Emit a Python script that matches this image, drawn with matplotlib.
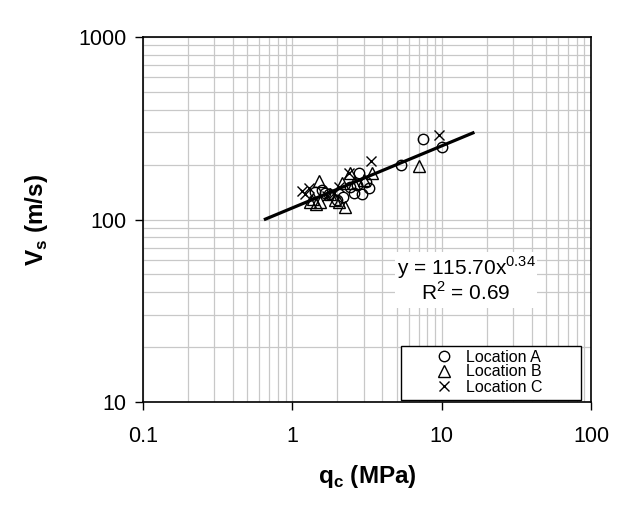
import matplotlib
matplotlib.use("Agg")
import matplotlib.pyplot as plt
from matplotlib.patches import Rectangle
from matplotlib.ticker import LogLocator, FuncFormatter, NullFormatter
import numpy as np

plt.rcParams['font.family'] = ['Liberation Sans', 'DejaVu Sans']
plt.rcParams['mathtext.fontset'] = 'custom'
plt.rcParams['mathtext.rm'] = 'Liberation Sans'
plt.rcParams['mathtext.bf'] = 'Liberation Sans:bold'

# Location A (circles): qc (MPa), Vs (m/s)
qc_a = [7.48, 10.0, 5.36, 2.78, 3.24, 2.92, 2.57, 2.71, 1.58, 1.99, 1.42, 1.75, 2.2, 2.45, 3.1, 1.65]
vs_a = [276, 249, 199, 179, 148, 138, 139, 155, 145, 128, 142, 138, 132, 150, 160, 140]

# Location B (triangles)
qc_b = [1.50, 2.44, 3.41, 7.0, 2.26, 1.32, 1.54, 1.94, 2.15, 3.0, 2.57, 1.45, 2.05, 1.8, 1.38]
vs_b = [163, 179, 179, 196, 117, 125, 125, 128, 158, 165, 158, 122, 124, 138, 130]

# Location C (crosses)
qc_c = [9.67, 3.36, 1.16, 1.29, 2.38, 1.22, 1.9, 2.05, 1.7]
vs_c = [290, 208, 144, 148, 179, 138, 140, 150, 135]

# power-law fit y = a * x^b
fit_a = 115.70
fit_b = 0.34
fit_range = [0.66, 16.2]

fig = plt.figure(figsize=(6.36, 5.09), dpi=100)
ax = fig.add_axes([143 / 636, 1 - 402 / 509, 448 / 636, 365 / 509])

ax.set_xscale('log')
ax.set_yscale('log')
ax.set_xlim(0.1, 100)
ax.set_ylim(10, 1000)

ax.grid(True, which='both', color='#c8c8c8', linewidth=0.9)
ax.set_axisbelow(True)

ax.xaxis.set_major_locator(LogLocator(base=10, numticks=10))
ax.yaxis.set_major_locator(LogLocator(base=10, numticks=10))
ax.xaxis.set_minor_locator(LogLocator(base=10, subs=np.arange(2, 10), numticks=20))
ax.yaxis.set_minor_locator(LogLocator(base=10, subs=np.arange(2, 10), numticks=20))
fmt = FuncFormatter(lambda v, p: '%g' % v)
ax.xaxis.set_major_formatter(fmt)
ax.yaxis.set_major_formatter(fmt)
ax.xaxis.set_minor_formatter(NullFormatter())
ax.yaxis.set_minor_formatter(NullFormatter())
ax.tick_params(which='major', direction='out', length=6, width=1, labelsize=15.5, color='black')
ax.tick_params(which='minor', length=0)
ax.tick_params(axis='x', pad=11)
ax.tick_params(axis='y', pad=6)
for sp in ax.spines.values():
    sp.set_linewidth(1.2)
    sp.set_color('black')

# fit line
xf = np.array(fit_range)
ax.plot(xf, fit_a * xf ** fit_b, color='black', linewidth=2.3, zorder=3)

ax.plot(qc_a, vs_a, linestyle='none', marker='o', markersize=7.5, markerfacecolor='none',
        markeredgecolor='black', markeredgewidth=1.0, label='Location A', zorder=4)
ax.plot(qc_b, vs_b, linestyle='none', marker='^', markersize=8, markerfacecolor='none',
        markeredgecolor='black', markeredgewidth=1.0, label='Location B', zorder=4)
ax.plot(qc_c, vs_c, linestyle='none', marker='x', markersize=7, markeredgecolor='black',
        markeredgewidth=1.0, label='Location C', zorder=4)

# equation box
def px_to_axes(xp, yp):
    return (xp - 143) / 448, (402 - yp) / 365

x0, y1 = px_to_axes(395, 252)
x1, y0 = px_to_axes(537, 308)
ax.add_patch(Rectangle((x0, y0), x1 - x0, y1 - y0, transform=ax.transAxes,
                       facecolor='white', edgecolor='none', zorder=5))
tx, ty1 = px_to_axes(466, 268)
_, ty2 = px_to_axes(466, 292)
ax.text(tx, ty1, r'y = 115.70x$^{0.34}$', transform=ax.transAxes, ha='center', va='center',
        fontsize=15, zorder=6)
ax.text(tx, ty2, r'R$^{2}$ = 0.69', transform=ax.transAxes, ha='center', va='center',
        fontsize=15, zorder=6)

# legend box
lx0, ly1 = px_to_axes(401, 346)
lx1, ly0 = px_to_axes(581, 400)
ax.add_patch(Rectangle((lx0, ly0), lx1 - lx0, ly1 - ly0, transform=ax.transAxes,
                       facecolor='white', edgecolor='black', linewidth=1.0, zorder=5))
lax, lay = px_to_axes(436, 372)
leg = ax.legend(loc='center left', bbox_to_anchor=(lax, lay), frameon=False, fontsize=11.5,
                handlelength=1.0, handletextpad=0.9, labelspacing=0.0, borderpad=0,
                borderaxespad=0)
leg.set_zorder(6)

ax.set_xlabel(r'q$_\mathbf{c}$ (MPa)', fontsize=17.5, fontweight='bold', labelpad=12)
ax.set_ylabel(r'V$_\mathbf{s}$ (m/s)', fontsize=17.5, fontweight='bold', labelpad=20)

fig.savefig('out.png', dpi=100)
